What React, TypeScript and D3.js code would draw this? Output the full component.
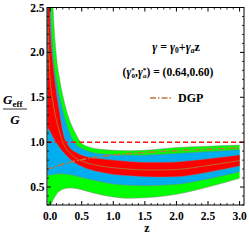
import React from "react";
import * as d3 from "d3";

// redshift grid the bands were read at
const zs = [-0.04, 0, 0.05, 0.1, 0.15, 0.2, 0.3, 0.4, 0.5, 0.6, 0.8, 1.0, 1.25, 1.5, 1.75, 2.0, 2.5, 3.0];

// 3 sigma / 2 sigma / 1 sigma limits and best fit of Geff/G
const greenTop = [9.0, 3.5, 2.45, 1.95, 1.7, 1.52, 1.26, 1.1, 0.985, 0.95, 0.92, 0.91, 0.905, 0.91, 0.925, 0.94, 0.955, 0.968];
const blueTop = [6.0, 2.7, 1.95, 1.68, 1.5, 1.35, 1.12, 0.98, 0.93, 0.9, 0.87, 0.86, 0.855, 0.855, 0.865, 0.875, 0.895, 0.915];
const redTop = [4.0, 2.35, 1.85, 1.55, 1.33, 1.12, 0.95, 0.89, 0.855, 0.835, 0.815, 0.8, 0.785, 0.775, 0.775, 0.78, 0.815, 0.858];
const bestFit = [2.4, 1.7, 1.42, 1.24, 1.11, 1.0, 0.89, 0.825, 0.79, 0.765, 0.735, 0.715, 0.7, 0.69, 0.69, 0.695, 0.74, 0.795];
const redBot = [1.16, 1.12, 1.05, 0.99, 0.94, 0.895, 0.82, 0.765, 0.73, 0.7, 0.665, 0.64, 0.625, 0.615, 0.612, 0.615, 0.665, 0.735];
const blueBot = [0.63, 0.635, 0.64, 0.645, 0.648, 0.648, 0.64, 0.625, 0.605, 0.59, 0.56, 0.535, 0.52, 0.515, 0.52, 0.53, 0.59, 0.67];
const greenBot = [0.22, 0.28, 0.36, 0.42, 0.455, 0.475, 0.49, 0.485, 0.47, 0.45, 0.415, 0.39, 0.375, 0.38, 0.395, 0.42, 0.5, 0.597];

// DGP prediction
const dgpZ = [-0.05, 0, 0.25, 0.5, 0.75, 1.0, 1.5, 2.0, 2.5, 3.0];
const dgpG = [0.7, 0.71, 0.765, 0.805, 0.835, 0.857, 0.885, 0.905, 0.922, 0.937];

const xTicks = [0, 0.5, 1.0, 1.5, 2.0, 2.5, 3.0];
const yTicks = [0.5, 1.0, 1.5, 2.0, 2.5];

const W = 249;
const H = 241;
const left = 47;
const right = 244;
const top = 7.5;
const bottom = 205;

export default function App() {
  const x = d3.scaleLinear().domain([-0.05, 3.07]).range([left, right]);
  const y = d3.scaleLinear().domain([0.3, 2.5]).range([bottom, top]);

  const band = (lo: number[], hi: number[]) =>
    d3
      .area<number>()
      .x((_, i) => x(zs[i]))
      .y0((_, i) => y(lo[i]))
      .y1((_, i) => y(hi[i]))
      .curve(d3.curveMonotoneX)(zs) as string;

  const edge = (vals: number[]) =>
    d3
      .line<number>()
      .x((_, i) => x(zs[i]))
      .y((d) => y(d))
      .curve(d3.curveMonotoneX)(vals) as string;

  const dgpLine = d3
    .line<number>()
    .x((d) => x(d))
    .y((_, i) => y(dgpG[i]))
    .curve(d3.curveMonotoneX)(dgpZ) as string;

  const minorX = d3.range(0, 31).map((d) => d / 10).filter((d) => Math.round(d * 10) % 5 !== 0);
  const minorY = d3.range(3, 26).map((d) => d / 10).filter((d) => Math.round(d * 10) % 5 !== 0);

  const font = "'Liberation Serif', 'Times New Roman', serif";

  return (
    <svg
      width={W}
      height={H}
      style={{ position: "absolute", left: 0, top: 0, background: "#fff" }}
      fontFamily={font}
      fontWeight="bold"
    >
      <defs>
        <clipPath id="plot">
          <rect x={left} y={top} width={right - left} height={bottom - top} />
        </clipPath>
      </defs>

      <g clipPath="url(#plot)">
        <path d={band(greenBot, greenTop)} fill="#00ff00" />
        <path d={band(blueBot, blueTop)} fill="#00aeef" />
        <path d={band(redBot, redTop)} fill="#ff0000" />
        {[greenTop, blueTop, redTop, redBot, blueBot, greenBot].map((v, i) => (
          <path key={i} d={edge(v)} fill="none" stroke="#8a7a8c" strokeWidth={0.6} opacity={0.8} />
        ))}
        <path d={edge(bestFit)} fill="none" stroke="#9c8a3c" strokeWidth={0.8} />
        <line x1={left} x2={right} y1={y(1)} y2={y(1)} stroke="#ff1010" strokeWidth={1.5} strokeDasharray="5,3" />
        <path d={dgpLine} fill="none" stroke="#c2773a" strokeWidth={1.6} strokeDasharray="6,2,1.5,2" />
      </g>

      {/* frame */}
      <rect x={left} y={top} width={right - left} height={bottom - top} fill="none" stroke="#000" strokeWidth={1} />

      {/* x ticks bottom and top */}
      {xTicks.map((t) => (
        <g key={"x" + t}>
          <line x1={x(t)} x2={x(t)} y1={bottom} y2={bottom - 4} stroke="#000" />
          <line x1={x(t)} x2={x(t)} y1={top} y2={top + 4} stroke="#000" />
          <text x={x(t)} y={bottom + 14.5} fontSize={11.5} textAnchor="middle">
            {t.toFixed(1)}
          </text>
        </g>
      ))}
      {minorX.map((t) => (
        <g key={"mx" + t}>
          <line x1={x(t)} x2={x(t)} y1={bottom} y2={bottom - 2} stroke="#000" strokeWidth={0.8} />
          <line x1={x(t)} x2={x(t)} y1={top} y2={top + 2} stroke="#000" strokeWidth={0.8} />
        </g>
      ))}

      {/* y ticks left and right */}
      {yTicks.map((t) => (
        <g key={"y" + t}>
          <line x1={left} x2={left + 4} y1={y(t)} y2={y(t)} stroke="#000" />
          <line x1={right} x2={right - 4} y1={y(t)} y2={y(t)} stroke="#000" />
          <text x={left - 2.5} y={y(t) + 4} fontSize={11.5} textAnchor="end">
            {t.toFixed(1)}
          </text>
        </g>
      ))}
      {minorY.map((t) => (
        <g key={"my" + t}>
          <line x1={left} x2={left + 2} y1={y(t)} y2={y(t)} stroke="#000" strokeWidth={0.8} />
          <line x1={right} x2={right - 2} y1={y(t)} y2={y(t)} stroke="#000" strokeWidth={0.8} />
        </g>
      ))}

      {/* axis labels */}
      <text x={147} y={232} fontSize={12} textAnchor="middle">z</text>
      <g fontSize={13}>
        <text x={3} y={104} fontStyle="italic">
          G<tspan fontSize={9} dy={3} fontStyle="normal">eff</tspan>
        </text>
        <line x1={3} x2={27} y1={109} y2={109} stroke="#000" strokeWidth={0.8} />
        <text x={15} y={124} fontStyle="italic" textAnchor="middle">G</text>
      </g>

      {/* annotations */}
      <text x={176} y={51} fontSize={12} textAnchor="middle">
        <tspan fontStyle="italic">γ</tspan> = <tspan fontStyle="italic">γ</tspan>
        <tspan fontSize={7.5} dy={2}>0</tspan>
        <tspan dy={-2}>+</tspan>
        <tspan fontStyle="italic">γ</tspan>
        <tspan fontSize={7.5} dy={2} fontStyle="italic">a</tspan>
        <tspan dy={-2}>z</tspan>
      </text>
      <text x={168} y={76} fontSize={11.5} textAnchor="middle">
        (<tspan fontStyle="italic">γ</tspan>
        <tspan fontSize={7} dy={-4}>*</tspan>
        <tspan fontSize={7} dx={-3.2} dy={6}>0</tspan>
        <tspan dy={-2}>,</tspan>
        <tspan fontStyle="italic">γ</tspan>
        <tspan fontSize={7} dy={-4}>*</tspan>
        <tspan fontSize={7} dx={-3.2} dy={6} fontStyle="italic">a</tspan>
        <tspan dy={-2}>) = (0.64,0.60)</tspan>
      </text>
      <line x1={150} x2={173} y1={98} y2={98} stroke="#c2773a" strokeWidth={1.6} strokeDasharray="6,2,1.5,2" />
      <text x={178} y={102} fontSize={12}>DGP</text>
    </svg>
  );
}
